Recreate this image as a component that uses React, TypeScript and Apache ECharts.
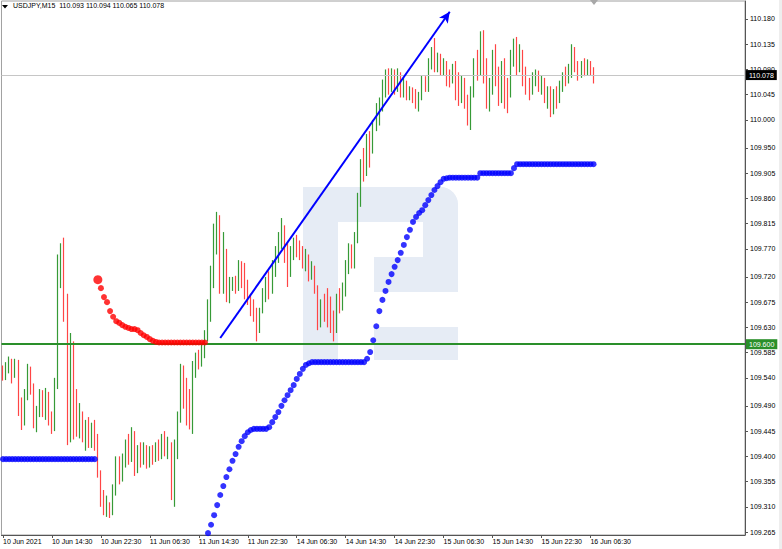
import React, { useEffect, useRef } from "react";
import * as echarts from "echarts";

const FONT = "'Liberation Sans', Arial, sans-serif";

const symbolName = "USDJPY,M15";
const headerValues = ["110.093", "110.094", "110.065", "110.078"];

const tickLabels = [
  "10 Jun 2021", "10 Jun 14:30", "10 Jun 22:30", "11 Jun 06:30", "11 Jun 14:30",
  "11 Jun 22:30", "14 Jun 06:30", "14 Jun 14:30", "14 Jun 22:30", "15 Jun 06:30",
  "15 Jun 14:30", "15 Jun 22:30", "16 Jun 06:30",
];
const TICK_EVERY = 16;

const yTicks = [
  110.18, 110.135, 110.09, 110.045, 110.0, 109.95, 109.905, 109.86, 109.815, 109.77,
  109.72, 109.675, 109.63, 109.585, 109.54, 109.49, 109.445, 109.4, 109.355, 109.31, 109.265,
];
const Y_MIN = 109.2597;
const Y_MAX = 110.2121;
const CATEGORY_COUNT = 243;

const currentPrice = 110.078;
const levelPrice = 109.6;
const trendStart = [71, 109.611];
const trendEnd = [146, 110.193];

// [open, close, low, high]
const bars: number[][] = [
  [109.555, 109.54, 109.535, 109.562], [109.54, 109.56, 109.536, 109.568], [109.56, 109.57, 109.548, 109.578],
  [109.57, 109.548, 109.53, 109.574], [109.548, 109.568, 109.54, 109.574], [109.568, 109.49, 109.472, 109.572],
  [109.49, 109.462, 109.447, 109.505], [109.462, 109.51, 109.455, 109.52], [109.51, 109.555, 109.5, 109.565],
  [109.555, 109.52, 109.51, 109.56], [109.52, 109.46, 109.45, 109.53], [109.46, 109.48, 109.443, 109.49],
  [109.48, 109.512, 109.47, 109.52], [109.512, 109.49, 109.47, 109.518], [109.49, 109.505, 109.465, 109.522],
  [109.505, 109.47, 109.455, 109.515], [109.47, 109.45, 109.44, 109.48], [109.45, 109.53, 109.445, 109.54],
  [109.53, 109.74, 109.52, 109.76], [109.74, 109.77, 109.7, 109.78], [109.77, 109.66, 109.64, 109.79],
  [109.66, 109.48, 109.42, 109.69], [109.48, 109.6, 109.425, 109.62], [109.6, 109.47, 109.43, 109.605],
  [109.47, 109.455, 109.435, 109.52], [109.455, 109.47, 109.432, 109.495], [109.47, 109.44, 109.425, 109.48],
  [109.44, 109.455, 109.41, 109.465], [109.455, 109.43, 109.415, 109.47], [109.43, 109.45, 109.415, 109.46],
  [109.45, 109.42, 109.41, 109.465], [109.42, 109.37, 109.362, 109.44], [109.37, 109.32, 109.31, 109.375],
  [109.32, 109.3, 109.295, 109.34], [109.3, 109.31, 109.292, 109.33], [109.31, 109.3, 109.29, 109.318],
  [109.3, 109.34, 109.295, 109.35], [109.34, 109.39, 109.33, 109.4], [109.39, 109.37, 109.35, 109.4],
  [109.37, 109.395, 109.355, 109.405], [109.395, 109.42, 109.38, 109.43], [109.42, 109.4, 109.385, 109.44],
  [109.4, 109.44, 109.39, 109.452], [109.44, 109.38, 109.365, 109.445], [109.38, 109.405, 109.37, 109.42],
  [109.405, 109.395, 109.38, 109.425], [109.395, 109.41, 109.385, 109.425], [109.41, 109.39, 109.378, 109.42],
  [109.39, 109.405, 109.38, 109.418], [109.405, 109.4, 109.385, 109.42], [109.4, 109.415, 109.39, 109.425],
  [109.415, 109.405, 109.392, 109.43], [109.405, 109.435, 109.395, 109.44], [109.435, 109.41, 109.4, 109.445],
  [109.41, 109.42, 109.395, 109.435], [109.42, 109.33, 109.322, 109.425], [109.33, 109.42, 109.31, 109.43],
  [109.42, 109.47, 109.395, 109.48], [109.47, 109.56, 109.46, 109.565], [109.56, 109.5, 109.485, 109.562],
  [109.5, 109.47, 109.455, 109.54], [109.47, 109.46, 109.448, 109.52], [109.46, 109.555, 109.44, 109.57],
  [109.555, 109.575, 109.54, 109.585], [109.575, 109.57, 109.555, 109.59], [109.57, 109.59, 109.56, 109.6],
  [109.59, 109.615, 109.575, 109.625], [109.615, 109.67, 109.605, 109.68], [109.67, 109.72, 109.64, 109.74],
  [109.72, 109.8, 109.7, 109.815], [109.8, 109.815, 109.76, 109.836], [109.815, 109.7, 109.69, 109.83],
  [109.7, 109.76, 109.69, 109.8], [109.76, 109.69, 109.675, 109.77], [109.69, 109.7, 109.673, 109.72],
  [109.7, 109.71, 109.695, 109.72], [109.71, 109.7, 109.69, 109.722], [109.7, 109.74, 109.695, 109.75],
  [109.74, 109.72, 109.7, 109.748], [109.72, 109.7, 109.68, 109.745], [109.7, 109.68, 109.67, 109.715],
  [109.68, 109.66, 109.65, 109.69], [109.66, 109.65, 109.64, 109.68], [109.65, 109.64, 109.605, 109.665],
  [109.64, 109.66, 109.62, 109.665], [109.66, 109.69, 109.655, 109.7], [109.69, 109.71, 109.675, 109.72],
  [109.71, 109.7, 109.68, 109.73], [109.7, 109.74, 109.69, 109.75], [109.74, 109.76, 109.72, 109.775],
  [109.76, 109.79, 109.745, 109.8], [109.79, 109.8, 109.77, 109.825], [109.8, 109.76, 109.745, 109.812],
  [109.76, 109.74, 109.702, 109.78], [109.74, 109.76, 109.72, 109.775], [109.76, 109.78, 109.75, 109.79],
  [109.78, 109.77, 109.755, 109.795], [109.77, 109.76, 109.75, 109.785], [109.76, 109.745, 109.735, 109.775],
  [109.745, 109.75, 109.73, 109.77], [109.75, 109.725, 109.712, 109.76], [109.725, 109.735, 109.715, 109.748],
  [109.735, 109.7, 109.69, 109.74], [109.7, 109.64, 109.625, 109.705], [109.64, 109.67, 109.63, 109.68],
  [109.67, 109.66, 109.64, 109.69], [109.66, 109.65, 109.63, 109.7], [109.65, 109.64, 109.62, 109.685],
  [109.64, 109.625, 109.605, 109.66], [109.625, 109.68, 109.62, 109.69], [109.68, 109.665, 109.655, 109.7],
  [109.665, 109.69, 109.66, 109.71], [109.69, 109.74, 109.685, 109.75], [109.74, 109.77, 109.725, 109.78],
  [109.77, 109.74, 109.735, 109.778], [109.74, 109.79, 109.735, 109.8], [109.79, 109.86, 109.78, 109.87],
  [109.86, 109.92, 109.845, 109.93], [109.92, 109.905, 109.89, 109.95], [109.905, 109.96, 109.9, 109.975],
  [109.96, 109.945, 109.915, 109.98], [109.945, 109.99, 109.94, 110.0], [109.99, 110.015, 109.98, 110.03],
  [110.015, 110.03, 109.99, 110.04], [110.03, 110.06, 110.015, 110.072], [110.06, 110.08, 110.04, 110.09],
  [110.08, 110.06, 110.045, 110.092], [110.06, 110.085, 110.05, 110.092], [110.085, 110.065, 110.045, 110.09],
  [110.065, 110.08, 110.05, 110.092], [110.08, 110.05, 110.04, 110.085], [110.05, 110.06, 110.04, 110.075],
  [110.06, 110.04, 110.035, 110.07], [110.04, 110.05, 110.035, 110.06], [110.05, 110.04, 110.03, 110.058],
  [110.04, 110.03, 110.02, 110.055], [110.03, 110.04, 110.015, 110.05], [110.04, 110.07, 110.035, 110.08],
  [110.07, 110.06, 110.05, 110.078], [110.06, 110.1, 110.05, 110.11], [110.1, 110.12, 110.09, 110.13],
  [110.12, 110.095, 110.085, 110.146], [110.095, 110.11, 110.085, 110.12], [110.11, 110.09, 110.08, 110.118],
  [110.09, 110.1, 110.08, 110.11], [110.1, 110.08, 110.06, 110.105], [110.08, 110.075, 110.058, 110.09],
  [110.075, 110.09, 110.065, 110.1], [110.09, 110.06, 110.035, 110.105], [110.06, 110.045, 110.025, 110.085],
  [110.045, 110.065, 110.03, 110.08], [110.065, 110.04, 110.02, 110.075], [110.04, 110.0, 109.99, 110.045],
  [110.0, 110.05, 109.982, 110.06], [110.05, 110.1, 110.04, 110.11], [110.1, 110.09, 110.07, 110.125],
  [110.09, 110.14, 110.08, 110.158], [110.14, 110.08, 110.065, 110.16], [110.08, 110.03, 110.02, 110.11],
  [110.03, 110.06, 110.015, 110.075], [110.06, 110.11, 110.045, 110.125], [110.11, 110.08, 110.06, 110.135],
  [110.08, 110.04, 110.025, 110.095], [110.04, 110.09, 110.03, 110.105], [110.09, 110.06, 110.02, 110.11],
  [110.06, 110.05, 110.012, 110.075], [110.05, 110.11, 110.04, 110.125], [110.11, 110.13, 110.095, 110.145],
  [110.13, 110.1, 110.08, 110.148], [110.1, 110.115, 110.085, 110.135], [110.115, 110.08, 110.06, 110.125],
  [110.08, 110.06, 110.045, 110.095], [110.06, 110.055, 110.035, 110.075], [110.055, 110.07, 110.045, 110.085],
  [110.07, 110.08, 110.06, 110.09], [110.08, 110.06, 110.05, 110.088], [110.06, 110.07, 110.045, 110.08],
  [110.07, 110.04, 110.03, 110.075], [110.04, 110.05, 110.02, 110.06], [110.05, 110.02, 110.005, 110.06],
  [110.02, 110.045, 110.01, 110.055], [110.045, 110.035, 110.02, 110.06], [110.035, 110.06, 110.03, 110.07],
  [110.06, 110.075, 110.05, 110.085], [110.075, 110.07, 110.06, 110.095], [110.07, 110.085, 110.065, 110.1],
  [110.085, 110.12, 110.075, 110.135], [110.12, 110.095, 110.085, 110.13], [110.095, 110.08, 110.07, 110.105],
  [110.08, 110.095, 110.075, 110.105], [110.095, 110.09, 110.078, 110.11], [110.09, 110.1, 110.08, 110.108],
  [110.1, 110.093, 110.08, 110.105], [110.093, 110.078, 110.065, 110.094],
];

// trailing-stop style dots (blue), one value per bar, null where absent
const blueDots: (number | null)[] = [
  109.395, 109.395, 109.395, 109.395, 109.395, 109.395, 109.395, 109.395, 109.395, 109.395,
  109.395, 109.395, 109.395, 109.395, 109.395, 109.395, 109.395, 109.395, 109.395, 109.395,
  109.395, 109.395, 109.395, 109.395, 109.395, 109.395, 109.395, 109.395, 109.395, 109.395,
  109.395, null, null, null, null, null, null, null, null, null,
  null, null, null, null, null, null, null, null, null, null,
  null, null, null, null, null, null, null, null, null, null,
  null, null, null, null, null, null, null, 109.263, 109.278, 109.295,
  109.313, 109.331, 109.347, 109.363, 109.377, 109.392, 109.404, 109.417, 109.427, 109.436,
  109.443, 109.447, 109.449, 109.449, 109.449, 109.449, 109.449, 109.452, 109.461, 109.47,
  109.479, 109.49, 109.5, 109.509, 109.518, 109.527, 109.538, 109.547, 109.556, 109.563,
  109.566, 109.568, 109.568, 109.568, 109.568, 109.568, 109.568, 109.568, 109.568, 109.568,
  109.568, 109.568, 109.568, 109.568, 109.568, 109.568, 109.568, 109.568, 109.568, 109.574,
  109.586, 109.607, 109.632, 109.659, 109.679, 109.695, 109.711, 109.725, 109.738, 109.75,
  109.763, 109.777, 109.791, 109.804, 109.818, 109.827, 109.834, 109.839, 109.848, 109.857,
  109.866, 109.875, 109.882, 109.889, 109.895, 109.896, 109.897, 109.897, 109.897, 109.897,
  109.897, 109.897, 109.897, 109.897, 109.897, 109.897, 109.905, 109.905, 109.905, 109.905,
  109.905, 109.905, 109.905, 109.905, 109.905, 109.905, 109.905, 109.914, 109.921, 109.921,
  109.921, 109.921, 109.921, 109.921, 109.921, 109.921, 109.921, 109.921, 109.921, 109.921,
  109.921, 109.921, 109.921, 109.921, 109.921, 109.921, 109.921, 109.921, 109.921, 109.921,
  109.921, 109.921, 109.921, 109.921,
];

// red dots start at bar 31
const RED_START = 31;
const redDots: number[] = [
  109.715, 109.7, 109.684, 109.675, 109.659, 109.649, 109.641, 109.638, 109.634, 109.631,
  109.629, 109.627, 109.627, 109.625, 109.62, 109.616, 109.613, 109.609, 109.606, 109.604,
  109.603, 109.603, 109.603, 109.603, 109.603, 109.603, 109.603, 109.603, 109.603, 109.603,
  109.603, 109.603, 109.603, 109.603, 109.603, 109.603,
];

const MONTHS = ["Jan", "Feb", "Mar", "Apr", "May", "Jun", "Jul", "Aug", "Sep", "Oct", "Nov", "Dec"];
function buildCategories(count: number): string[] {
  const out: string[] = [];
  let t = Date.UTC(2021, 5, 10, 6, 30);
  const pad = (n: number) => (n < 10 ? "0" + n : "" + n);
  while (out.length < count) {
    const d = new Date(t);
    const dow = d.getUTCDay();
    if (dow !== 0 && dow !== 6) {
      out.push(`${d.getUTCDate()} ${MONTHS[d.getUTCMonth()]} ${pad(d.getUTCHours())}:${pad(d.getUTCMinutes())}`);
    }
    t += 30 * 60000;
  }
  return out;
}

const WM = "#e6ecf5";

export default function App() {
  const ref = useRef<HTMLDivElement>(null);
  useEffect(() => {
    if (!ref.current) return;
    const chart = echarts.init(ref.current, undefined, { renderer: "svg" });
    const categories = buildCategories(CATEGORY_COUNT);
    const lastTick = (tickLabels.length - 1) * TICK_EVERY;
    const showTick = (i: number) => i % TICK_EVERY === 0 && i <= lastTick;

    const blueData: number[][] = [];
    blueDots.forEach((v, i) => {
      if (v !== null) blueData.push([i, v]);
    });
    const redData = redDots.map((v, k) => [RED_START + k, v]);

    const option: any = {
      animation: false,
      backgroundColor: "#ffffff",
      grid: { left: 1, right: 37, top: 1, bottom: 14, show: true, borderColor: "#a0a0a0", borderWidth: 1 },
      xAxis: {
        type: "category",
        data: categories,
        boundaryGap: true,
        axisLine: { show: true, lineStyle: { color: "#555", width: 1 } },
        axisTick: { show: true, alignWithLabel: true, length: 3, interval: (i: number) => showTick(i), lineStyle: { color: "#555" } },
        axisLabel: {
          show: true,
          interval: (i: number) => showTick(i),
          formatter: (_v: string, i: number) => tickLabels[Math.round(i / TICK_EVERY)] ?? "",
          align: "left",
          margin: 3,
          fontSize: 7,
          color: "#000",
          fontFamily: FONT,
        },
        splitLine: { show: false },
      },
      yAxis: {
        type: "value",
        position: "right",
        min: Y_MIN,
        max: Y_MAX,
        axisLine: { show: true, lineStyle: { color: "#555" } },
        axisTick: { show: true, length: 3, customValues: yTicks, lineStyle: { color: "#555" } },
        axisLabel: {
          customValues: yTicks,
          formatter: (v: number) => v.toFixed(3),
          margin: 5,
          fontSize: 7,
          color: "#000",
          fontFamily: FONT,
        },
        splitLine: { show: false },
      },
      graphic: [
        { type: "rect", z: 0, shape: { x: 303, y: 187, width: 35, height: 173 }, style: { fill: WM } },
        { type: "rect", z: 0, shape: { x: 303, y: 187, width: 155, height: 35, r: [0, 18, 0, 0] }, style: { fill: WM } },
        { type: "rect", z: 0, shape: { x: 423, y: 187, width: 35, height: 105, r: [0, 18, 0, 0] }, style: { fill: WM } },
        { type: "rect", z: 0, shape: { x: 374, y: 257, width: 84, height: 35, r: [0, 0, 14, 0] }, style: { fill: WM } },
        { type: "rect", z: 0, shape: { x: 374, y: 327, width: 84, height: 33 }, style: { fill: WM } },
        { type: "rect", z: 0, shape: { x: 779, y: 0, width: 3, height: 549 }, style: { fill: "#eeeeee" } },
        { type: "polygon", z: 10, shape: { points: [[590, 0], [598, 0], [594, 5]] }, style: { fill: "#a8a8a8" } },
        { type: "polygon", z: 10, shape: { points: [[2, 5], [8, 5], [5, 8.5]] }, style: { fill: "#000" } },
        {
          type: "text", z: 10, left: 13, top: 2,
          style: { text: `${symbolName}  ${headerValues.join(" ")}`, fontSize: 7, fill: "#000", fontFamily: FONT },
        },
      ],
      series: [
        {
          type: "line",
          data: [],
          z: 1,
          markLine: {
            silent: true,
            symbol: "none",
            animation: false,
            data: [
              {
                yAxis: currentPrice,
                lineStyle: { color: "#c6c6c6", width: 1, type: "solid" },
                label: {
                  show: true, position: "end", distance: 1, formatter: () => currentPrice.toFixed(3),
                  backgroundColor: "#000", color: "#fff", fontSize: 7, fontFamily: FONT, padding: [2, 3, 1, 3],
                },
              },
            ],
          },
        },
        {
          type: "candlestick",
          data: bars,
          barWidth: 1,
          z: 3,
          itemStyle: {
            color: "#369a36",
            color0: "#ff4545",
            borderColor: "#369a36",
            borderColor0: "#ff4545",
            borderWidth: 1.2,
          },
        },
        {
          type: "line",
          data: [],
          z: 4,
          markLine: {
            silent: true,
            symbol: "none",
            animation: false,
            data: [
              {
                yAxis: levelPrice,
                lineStyle: { color: "#2a8f2a", width: 2, type: "solid" },
                label: {
                  show: true, position: "end", distance: 1, formatter: () => levelPrice.toFixed(3),
                  backgroundColor: "#2a8f2a", color: "#fff", fontSize: 7, fontFamily: FONT, padding: [2, 3, 1, 3],
                },
              },
            ],
          },
        },
        {
          type: "scatter",
          data: blueData,
          symbol: "circle",
          symbolSize: 6,
          z: 5,
          itemStyle: { color: "#0000ff" },
          silent: true,
        },
        {
          type: "scatter",
          data: redData,
          symbol: "circle",
          symbolSize: (_v: any, p: any) => (p.dataIndex === 0 ? 9 : 6),
          z: 5,
          itemStyle: { color: "#ff0000" },
          silent: true,
        },
        {
          type: "line",
          data: [],
          z: 6,
          markLine: {
            silent: true,
            symbol: ["none", "arrow"],
            symbolSize: [8, 11],
            animation: false,
            label: { show: false },
            lineStyle: { color: "#0000ff", width: 2, type: "solid" },
            data: [[{ coord: trendStart }, { coord: trendEnd }]],
          },
        },
      ],
    };
    chart.setOption(option);
    return () => chart.dispose();
  }, []);
  return <div ref={ref} style={{ position: "absolute", left: 0, top: 0, width: 782, height: 549 }} />;
}
